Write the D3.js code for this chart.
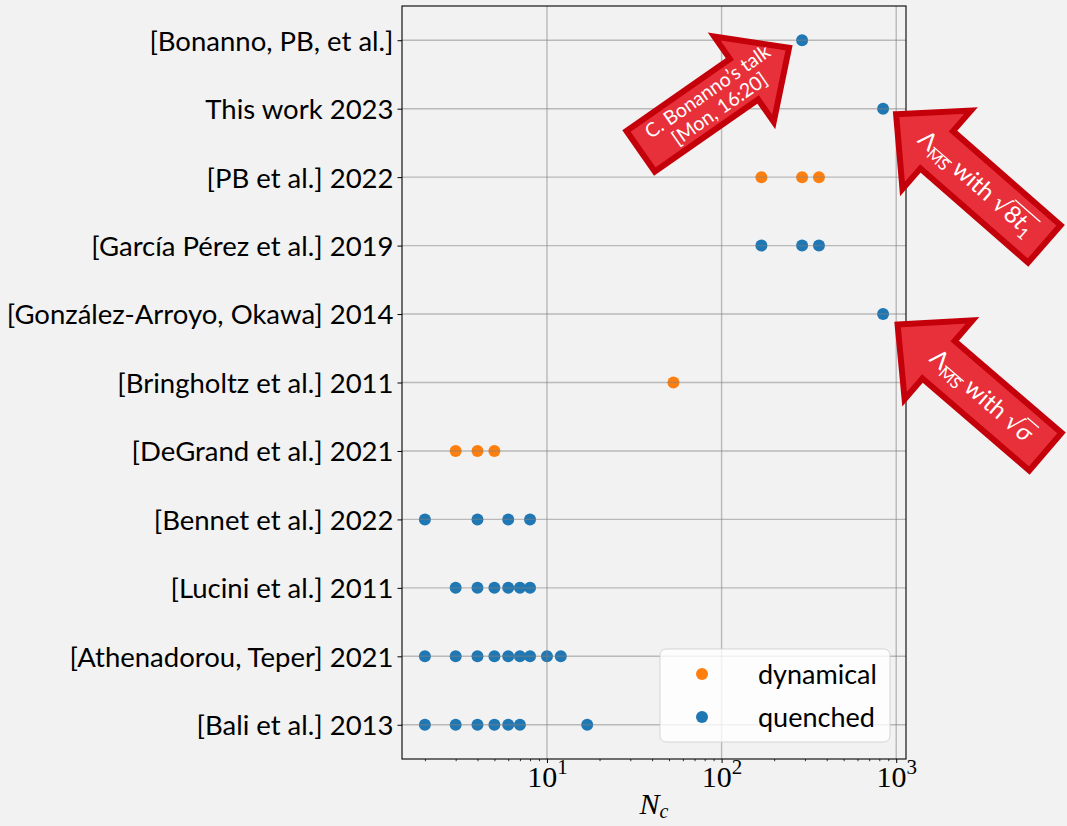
<!DOCTYPE html>
<html>
<head>
<meta charset="utf-8">
<script src="https://cdn.jsdelivr.net/npm/d3@7/dist/d3.min.js"></script>
<style>
  body { margin: 0; background: #f2f2f2; }
  svg { display: block; }
</style>
</head>
<body>
<svg id="chart" width="1067" height="826"></svg>
<script>
// ---- data -------------------------------------------------------------
const categories = [
  "[Bonanno, PB, et al.]",
  "This work 2023",
  "[PB et al.] 2022",
  "[García Pérez et al.] 2019",
  "[González-Arroyo, Okawa] 2014",
  "[Bringholtz et al.] 2011",
  "[DeGrand et al.] 2021",
  "[Bennet et al.] 2022",
  "[Lucini et al.] 2011",
  "[Athenadorou, Teper] 2021",
  "[Bali et al.] 2013"
];
const categorySeries = [
  "quenched", "quenched", "dynamical", "quenched", "quenched", "dynamical",
  "dynamical", "quenched", "quenched", "quenched", "quenched"
];
const ncValues = [
  [289],
  [841],
  [169, 289, 361],
  [169, 289, 361],
  [841],
  [53],
  [3, 4, 5],
  [2, 4, 6, 8],
  [3, 4, 5, 6, 7, 8],
  [2, 3, 4, 5, 6, 7, 8, 10, 12],
  [2, 3, 4, 5, 6, 7, 17]
];
const seriesNames = ["dynamical", "quenched"];
const seriesColors = ["#ff7f0e", "#1f77b4"];
const xTickValues = [10, 100, 1000];
const xTickExponents = ["1", "2", "3"];

// ---- layout -----------------------------------------------------------
const W = 1067, H = 826;
const plot = { left: 402, right: 906, top: 6, bottom: 759 };
const sansFont = "Lato, 'Open Sans', sans-serif";
const serifFont = "'Liberation Serif', 'DejaVu Serif', serif";

const svg = d3.select("#chart");
svg.append("rect").attr("width", W).attr("height", H).attr("fill", "#f2f2f2");

const points = [];
categories.forEach((c, i) => ncValues[i].forEach(v => points.push({ cat: c, nc: v, series: categorySeries[i] })));

// log x-domain padded by 5% of the data span on each side
const ext = d3.extent(points, d => d.nc);
const lspan = Math.log10(ext[1] / ext[0]);
const pad = 0.05 * lspan;
const x = d3.scaleLog()
  .domain([ext[0] / Math.pow(10, pad), ext[1] * Math.pow(10, pad)])
  .range([plot.left, plot.right]);
const y = d3.scalePoint().domain(categories).range([plot.top, plot.bottom]).padding(0.5);
const color = d3.scaleOrdinal().domain(seriesNames).range(seriesColors);

// ---- marks ------------------------------------------------------------
svg.append("g").selectAll("circle").data(points).join("circle")
  .attr("cx", d => x(d.nc))
  .attr("cy", d => y(d.cat))
  .attr("r", 6)
  .attr("fill", d => color(d.series));

// ---- grid (drawn over the markers) ------------------------------------
const grid = svg.append("g").attr("stroke", "#808080").attr("stroke-opacity", 0.5).attr("stroke-width", 1.4);
grid.selectAll("line.h").data(categories).join("line").attr("class", "h")
  .attr("x1", plot.left).attr("x2", plot.right)
  .attr("y1", d => y(d)).attr("y2", d => y(d));
grid.selectAll("line.v").data(xTickValues).join("line").attr("class", "v")
  .attr("x1", d => x(d)).attr("x2", d => x(d))
  .attr("y1", plot.top).attr("y2", plot.bottom);

// ---- axes -------------------------------------------------------------
const yAxis = svg.append("g").attr("transform", `translate(${plot.left},0)`)
  .call(d3.axisLeft(y).tickSize(4.5).tickPadding(4));
yAxis.select(".domain").remove();
yAxis.selectAll(".tick line").attr("stroke", "#000").attr("stroke-width", 1);
yAxis.selectAll(".tick text")
  .attr("font-family", sansFont).attr("font-size", 27.5).attr("fill", "#000")
  .attr("dy", "0.36em");

const minorTicks = [];
for (let p = 0; p <= 3; p++) for (let m = 2; m <= 9; m++) {
  const v = m * Math.pow(10, p);
  if (v >= x.domain()[0] && v <= x.domain()[1]) minorTicks.push(v);
}
const xMinor = svg.append("g").attr("transform", `translate(0,${plot.bottom})`)
  .call(d3.axisBottom(x).tickValues(minorTicks).tickSize(2.2).tickFormat(""));
xMinor.select(".domain").remove();
xMinor.selectAll(".tick line").attr("stroke", "#000").attr("stroke-width", 0.8);

const xAxis = svg.append("g").attr("transform", `translate(0,${plot.bottom})`)
  .call(d3.axisBottom(x).tickValues(xTickValues).tickSize(4).tickFormat(""));
xAxis.select(".domain").remove();
xAxis.selectAll(".tick line").attr("stroke", "#000").attr("stroke-width", 1);
xAxis.selectAll(".tick").each(function (d, i) {
  const t = d3.select(this).append("text")
    .attr("y", 28).attr("text-anchor", "middle")
    .attr("font-family", serifFont).attr("font-size", 30).attr("fill", "#000");
  t.append("tspan").text("10");
  t.append("tspan").attr("dy", -13).attr("font-size", 21).text(xTickExponents[i]);
});

// x-axis title N_c
const xt = svg.append("text")
  .attr("x", (plot.left + plot.right) / 2).attr("y", 814)
  .attr("text-anchor", "middle")
  .attr("font-family", serifFont).attr("font-style", "italic").attr("font-size", 30).attr("fill", "#000");
xt.append("tspan").text("N");
xt.append("tspan").attr("dy", 4).attr("font-size", 20).text("c");

// spines
svg.append("rect")
  .attr("x", plot.left).attr("y", plot.top)
  .attr("width", plot.right - plot.left).attr("height", plot.bottom - plot.top)
  .attr("fill", "none").attr("stroke", "#000").attr("stroke-width", 1.1);

// ---- legend -----------------------------------------------------------
const lg = svg.append("g").attr("transform", "translate(660,649)");
lg.append("rect").attr("width", 230).attr("height", 93).attr("rx", 6)
  .attr("fill", "#fff").attr("fill-opacity", 0.8)
  .attr("stroke", "#ccc").attr("stroke-opacity", 0.8);
seriesNames.forEach((s, i) => {
  const row = lg.append("g").attr("transform", `translate(0,${25 + i * 43})`);
  row.append("circle").attr("cx", 42).attr("cy", 0).attr("r", 6).attr("fill", color(s));
  row.append("text").attr("x", 98).attr("y", 0).attr("dy", "0.36em")
    .attr("font-family", sansFont).attr("font-size", 27).attr("fill", "#000").text(s);
});

// ---- callout arrows ---------------------------------------------------
// each arrow: tip offset from a data point, direction tip->tail (deg), total length
function drawArrow(cfg) {
  const { tip, angle, L, bw, hw, hl, tc, flip } = cfg;
  const g = svg.append("g").attr("transform", `translate(${tip[0]},${tip[1]}) rotate(${angle})`);
  const shape = [[0, 0], [hl, -hw / 2], [hl, -bw / 2], [L, -bw / 2], [L, bw / 2], [hl, bw / 2], [hl, hw / 2]];
  g.append("path")
    .attr("d", d3.line()(shape) + "Z")
    .attr("fill", "#e8303a").attr("stroke", "#c4000b").attr("stroke-width", 6)
    .attr("stroke-linejoin", "miter");
  const tg = g.append("g").attr("transform", `translate(${tc},0) rotate(${flip ? 180 : 0})`);
  return tg;
}

// Bonanno talk arrow
{
  const p = [x(289), y(categories[0])];
  const tg = drawArrow({ tip: [p[0] - 13, p[1] + 7.5], angle: 145.1, L: 181, bw: 49.5, hw: 104, hl: 55, tc: 92, flip: true });
  const t = tg.append("text").attr("text-anchor", "middle")
    .attr("font-family", sansFont).attr("font-size", 19.5).attr("fill", "#fff");
  t.append("tspan").attr("x", 0).attr("y", -4).text("C. Bonanno’s talk");
  t.append("tspan").attr("x", 0).attr("y", 17).text("[Mon, 16:20]");
}

function lambdaLabel(tg, tail) {
  // Λ_{\overline{MS}} with <tail>
  const t = tg.append("text").attr("text-anchor", "middle")
    .attr("font-family", sansFont).attr("font-size", 24).attr("fill", "#fff").attr("y", 7);
  const parts = [
    { s: "Λ" },
    { s: "MS", size: 16, dy: 5, bar: "ms" },
    { s: " with ", dy: -5 },
    { s: "√", font: "'DejaVu Sans', sans-serif" },
    ...tail
  ];
  const bars = {};
  let idx = 0;
  parts.forEach(p => {
    const ts = t.append("tspan").text(p.s);
    if (p.size) ts.attr("font-size", p.size);
    if (p.dy) ts.attr("dy", p.dy);
    if (p.italic) ts.attr("font-style", "italic");
    if (p.font) ts.attr("font-family", p.font);
    if (p.bar) {
      bars[p.bar] = bars[p.bar] || { from: idx, to: idx + p.s.length - 1 };
      bars[p.bar].to = idx + p.s.length - 1;
    }
    idx += p.s.length;
  });
  const node = t.node();
  Object.entries(bars).forEach(([k, b]) => {
    const x0 = node.getStartPositionOfChar(b.from).x;
    const x1 = node.getEndPositionOfChar(b.to).x;
    const yb = k === "ms" ? 0 : -14;
    tg.append("line").attr("x1", x0 - (k === "ms" ? 0 : 1)).attr("x2", x1 + 1)
      .attr("y1", yb).attr("y2", yb).attr("stroke", "#fff").attr("stroke-width", 1.3);
  });
}

// sqrt(8 t_1) arrow
{
  const p = [x(841), y(categories[1])];
  const tg = drawArrow({ tip: [p[0] + 13, p[1] + 5.5], angle: 41.2, L: 197, bw: 49.5, hw: 104, hl: 54, tc: 106, flip: false });
  lambdaLabel(tg, [
    { s: "8", bar: "r" },
    { s: "t", italic: true, bar: "r" },
    { s: "1", size: 16, dy: 5, bar: "r" }
  ]);
}

// sqrt(sigma) arrow
{
  const p = [x(841), y(categories[4])];
  const tg = drawArrow({ tip: [p[0] + 14.5, p[1] + 10.5], angle: 40.7, L: 195, bw: 49.5, hw: 104, hl: 54, tc: 110, flip: false });
  lambdaLabel(tg, [
    { s: "σ", italic: true, bar: "r" }
  ]);
}
</script>
</body>
</html>
